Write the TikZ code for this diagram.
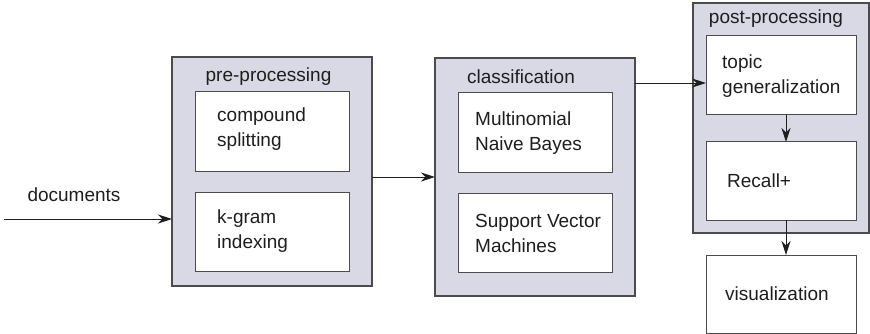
\documentclass[tikz,border=0pt]{standalone}
\usepackage{fontspec}
\setmainfont{Liberation Sans}
\usetikzlibrary{arrows.meta,calc}
\definecolor{groupfill}{RGB}{216,217,228}
\definecolor{edgegray}{RGB}{75,75,75}
\definecolor{inkgray}{RGB}{30,30,30}
\begin{document}
\begin{tikzpicture}[x=1pt,y=-1pt,
  group/.style={draw=edgegray, line width=1.2pt, fill=groupfill, anchor=north west,
    inner sep=0pt, outer sep=0pt},
  stepbox/.style={draw=edgegray, line width=1pt, fill=white, anchor=north west,
    inner sep=0pt, outer sep=0pt, minimum width=154pt, minimum height=79pt},
  txt/.style={text=inkgray, font=\fontsize{19}{25}\selectfont, inner sep=0pt, align=left},
  conn/.style={draw=inkgray, line width=0.9pt,
    -{Stealth[length=14pt,width=9pt,inset=4.5pt]}}
]
\useasboundingbox (0,0) rectangle (870,334);

% pre-processing group
\node[group, minimum width=200pt, minimum height=229pt] (pre) at (172,57) {};
\node[txt] (prelbl) at (268.5,77) {pre-processing};
\node[stepbox] (comp) at (195,92) {};
\node[stepbox] (kgram) at (195,192) {};
\node[txt, anchor=west] (comptxt) at (217,129) {compound\\splitting};
\node[txt, anchor=west] (kgramtxt) at (217,231) {k-gram\\indexing};

% classification group
\node[group, minimum width=200pt, minimum height=238pt] (class) at (435,58) {};
\node[txt] (classlbl) at (521,77) {classification};
\node[stepbox] (mnb) at (458,93) {};
\node[stepbox] (svm) at (458,193) {};
\node[txt, anchor=west] (mnbtxt) at (475,133) {Multinomial\\Naive Bayes};
\node[txt, anchor=west] (svmtxt) at (475,233) {Support Vector\\Machines};

% post-processing group
\node[group, minimum width=176pt, minimum height=230pt] (post) at (693,3) {};
\node[txt] (postlbl) at (776,19) {post-processing};
\node[stepbox, minimum width=150pt] (topic) at (706,36) {};
\node[stepbox, minimum width=150pt, minimum height=78pt] (recall) at (706,142) {};
\node[txt, anchor=west] (topictxt) at (722,76) {topic\\generalization};
\node[txt, anchor=west] (recalltxt) at (727,181) {Recall+};

% output
\node[stepbox, minimum width=150pt, minimum height=78pt] (vis) at (706,255) {};
\node[txt, anchor=west] (vistxt) at (725,294) {visualization};

% input
\node[txt] (doclbl) at (74,195) {documents};
\coordinate (src) at (4,219);

% connectors
\draw[conn] (src) -- (src -| pre.west);
\draw[conn] (class.west -| pre.east) -- (class.west);
\coordinate (tin) at ($(topic.west)+(0,7.5)$);
\draw[conn] (tin -| class.east) -- (tin);
\draw[conn] ($(topic.south)+(5,0)$) -- ($(recall.north)+(5,0)$);
\draw[conn] ($(recall.south)+(5,0)$) -- ($(vis.north)+(5,0)$);
\end{tikzpicture}
\end{document}
